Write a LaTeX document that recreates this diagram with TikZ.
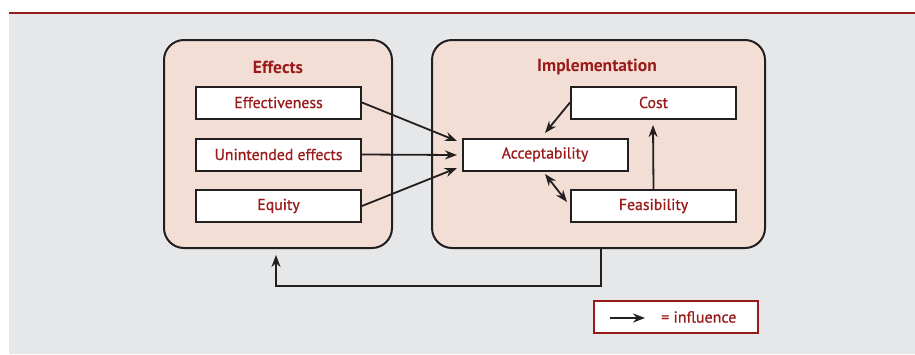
\documentclass[tikz,border=0pt]{standalone}
\usepackage{fontspec}
\setmainfont{PT Sans}
\newfontfamily\medfont[FakeBold=0.8]{PT Sans}
\usetikzlibrary{arrows.meta}
\definecolor{bgray}{HTML}{E6E7E9}
\definecolor{dred}{HTML}{9A1A1A}
\definecolor{pinkfill}{HTML}{F2DED5}
\definecolor{lineblk}{HTML}{231F20}
\tikzset{
  group/.style={draw=lineblk, line width=2pt, fill=pinkfill, rounded corners=20pt},
  itembox/.style={draw=lineblk, line width=2pt, fill=white, minimum width=165pt, minimum height=32pt, inner sep=0pt, text=dred, font=\medfont\fontsize{15.8}{18}\selectfont},
  grouptitle/.style={text=dred, font=\fontsize{17.5}{20}\selectfont\bfseries},
  infl/.style={draw=lineblk, line width=1.8pt, -{Stealth[length=12pt,width=9pt]}},
  infl2/.style={draw=lineblk, line width=1.8pt, {Stealth[length=12pt,width=9pt]}-{Stealth[length=12pt,width=9pt]}},
}
\begin{document}
\begin{tikzpicture}[x=1pt,y=-1pt]
\useasboundingbox (0,0) rectangle (915,354);
\fill[white] (0,0) rectangle (915,354);
\fill[bgray] (9,13.5) rectangle (915,354);
\fill[dred] (9,11.5) rectangle (915,13.7);
% groups
\draw[group] (164,40) rectangle (392,248);
\draw[group] (432,40) rectangle (765,248);
\node[grouptitle] (teff) at (278,67) {Effects};
\node[grouptitle] (timp) at (597,67) {Implementation};
% items
\node[itembox] (eff) at (278.5,102.5) {Effectiveness};
\node[itembox] (une) at (278.5,154.5) {Unintended effects};
\node[itembox] (equ) at (278.5,206) {Equity};
\node[itembox] (cost) at (653.5,102.5) {Cost};
\node[itembox] (acc) at (545,154.5) {Acceptability};
\node[itembox] (fea) at (653.5,206) {Feasibility};
% arrow endpoints
\coordinate (a1) at (457,141);
\coordinate (a2) at (457,155);
\coordinate (a3) at (457,168);
\draw[infl] (eff.east) -- (a1);
\draw[infl] (une.east) -- (a2);
\draw[infl] (equ.east) -- (a3);
\coordinate (c1) at (545,133);
\draw[infl] (cost.west) -- (c1);
\coordinate (f1) at (545,174);
\coordinate (f2) at (567,202);
\draw[infl2] (f1) -- (f2);
\coordinate (f3) at (653,125);
\draw[infl] (fea.north) -- (f3);
% feedback
\coordinate (fb0) at (601,248);
\coordinate (fb1) at (276,255);
\draw[infl] (fb0) -- (601,286) -- (276,286) -- (fb1);
% legend
\node[draw=dred, line width=2pt, fill=white, minimum width=164pt, minimum height=32pt, inner sep=0pt] (leg) at (676,317) {};
\coordinate (l1) at (610,318);
\coordinate (l2) at (645,318);
\draw[infl] (l1) -- (l2);
\node[text=dred, font=\medfont\fontsize{16}{18}\selectfont, anchor=west, inner sep=0pt] (legt) at (661,317) {= influence};
\end{tikzpicture}
\end{document}
